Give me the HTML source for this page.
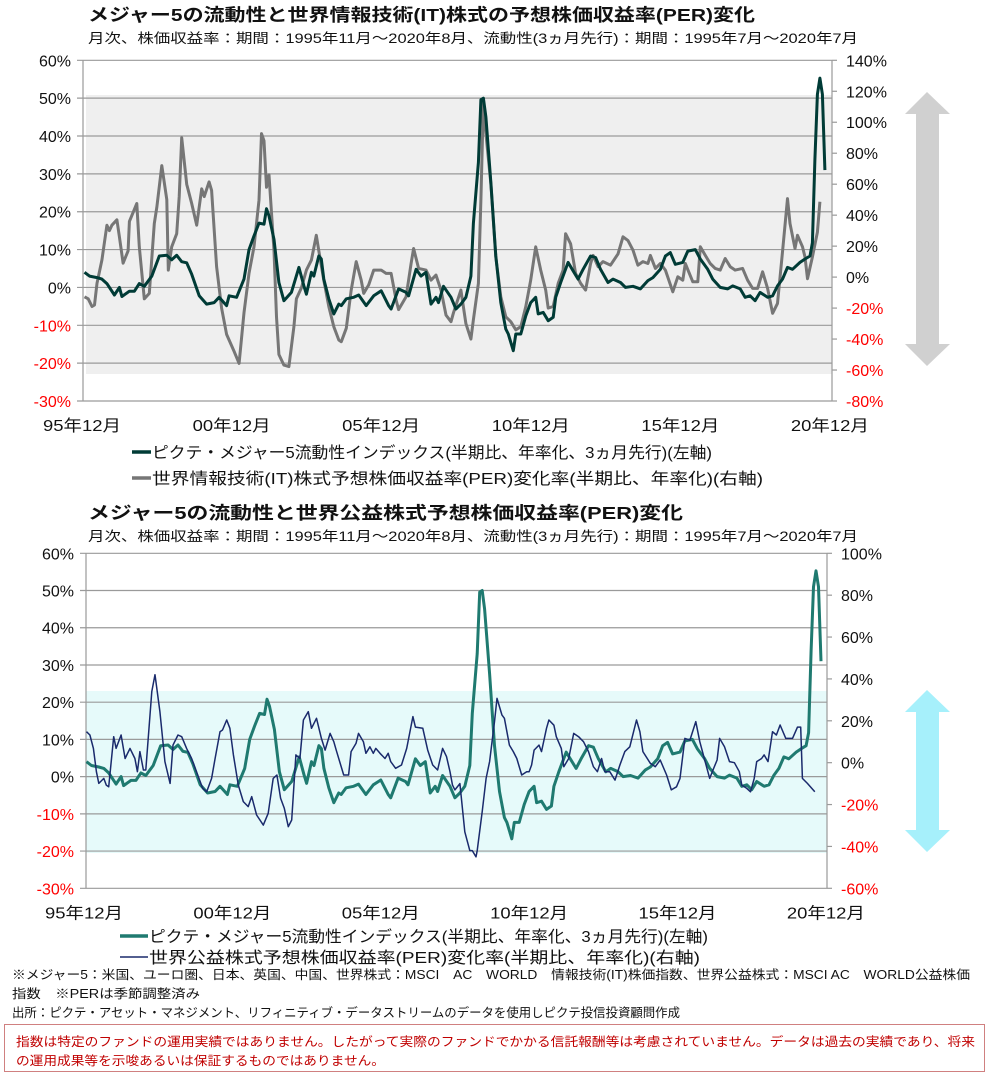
<!DOCTYPE html>
<html><head><meta charset="utf-8"><style>
body{margin:0;background:#fff;}
svg{display:block;font-family:"Liberation Sans","Noto Sans CJK JP",sans-serif;}
</style></head><body>
<svg id="s" width="993" height="1078" viewBox="0 0 993 1078" xmlns="http://www.w3.org/2000/svg">
<text x="88" y="21" font-size="17.5" font-weight="bold" fill="#111" textLength="667" lengthAdjust="spacingAndGlyphs">メジャー5の流動性と世界情報技術(IT)株式の予想株価収益率(PER)変化</text>
<text x="88" y="43" font-size="13.5" fill="#111" textLength="770" lengthAdjust="spacingAndGlyphs">月次、株価収益率：期間：1995年11月～2020年8月、流動性(3ヵ月先行)：期間：1995年7月～2020年7月</text>
<text x="88" y="519" font-size="17.5" font-weight="bold" fill="#111" textLength="595" lengthAdjust="spacingAndGlyphs">メジャー5の流動性と世界公益株式予想株価収益率(PER)変化</text>
<text x="88" y="541" font-size="13.5" fill="#111" textLength="770" lengthAdjust="spacingAndGlyphs">月次、株価収益率：期間：1995年11月～2020年8月、流動性(3ヵ月先行)：期間：1995年7月～2020年7月</text>
<rect x="86" y="95" width="746" height="279" fill="#efefef"/>
<rect x="86" y="691" width="741" height="162" fill="#e6fafa"/>
<polygon points="927,92 950,114 939,114 939,344 950,344 927,366 905,344 916,344 916,114 905,114" fill="#d0d0d0"/>
<polygon points="927,690 950,712 939,712 939,830 950,830 927,852 905,830 916,830 916,712 905,712" fill="#a6f0fb"/>
<g id="top"></g>
<g id="bot"></g>
<line x1="132" y1="452" x2="151" y2="452" stroke="#003b36" stroke-width="3.5"/>
<text x="152" y="458" font-size="16" fill="#111" textLength="560" lengthAdjust="spacingAndGlyphs">ピクテ・メジャー5流動性インデックス(半期比、年率化、3ヵ月先行)(左軸)</text>
<line x1="132" y1="478" x2="151" y2="478" stroke="#767676" stroke-width="3.5"/>
<text x="152" y="484" font-size="16" fill="#111" textLength="611" lengthAdjust="spacingAndGlyphs">世界情報技術(IT)株式予想株価収益率(PER)変化率(半期比、年率化)(右軸)</text>
<line x1="120" y1="936" x2="148" y2="936" stroke="#1f7a70" stroke-width="3.5"/>
<text x="149" y="942" font-size="16" fill="#111" textLength="559" lengthAdjust="spacingAndGlyphs">ピクテ・メジャー5流動性インデックス(半期比、年率化、3ヵ月先行)(左軸)</text>
<line x1="120" y1="957" x2="148" y2="957" stroke="#1a2a6c" stroke-width="1.5"/>
<text x="149" y="963" font-size="16" fill="#111" textLength="551" lengthAdjust="spacingAndGlyphs">世界公益株式予想株価収益率(PER)変化率(半期比、年率化)(右軸)</text>
<text x="12" y="979" font-size="12.5" fill="#111" textLength="958" lengthAdjust="spacingAndGlyphs">※メジャー5：米国、ユーロ圏、日本、英国、中国、世界株式：MSCI　AC　WORLD　情報技術(IT)株価指数、世界公益株式：MSCI AC　WORLD公益株価</text>
<text x="12" y="998" font-size="12.5" fill="#111" textLength="188" lengthAdjust="spacingAndGlyphs">指数　※PERは季節調整済み</text>
<text x="12" y="1017" font-size="12.5" fill="#111" textLength="668" lengthAdjust="spacingAndGlyphs">出所：ピクテ・アセット・マネジメント、リフィニティブ・データストリームのデータを使用しピクテ投信投資顧問作成</text>
<rect x="4.5" y="1024.5" width="980" height="47" fill="none" stroke="#d08080" stroke-width="1"/>
<text x="16" y="1046" font-size="12.5" fill="#c00000" textLength="959" lengthAdjust="spacingAndGlyphs">指数は特定のファンドの運用実績ではありません。したがって実際のファンドでかかる信託報酬等は考慮されていません。データは過去の実績であり、将来</text>
<text x="16" y="1065" font-size="12.5" fill="#c00000" textLength="369" lengthAdjust="spacingAndGlyphs">の運用成果等を示唆あるいは保証するものではありません。</text>
</svg>
<script>
// months since Dec 1995
const xTickLabels = ["95年12月","00年12月","05年12月","10年12月","15年12月","20年12月"];
const xTickMonths = [0,60,120,180,240,300];
const topLeftTicks = [60,50,40,30,20,10,0,-10,-20,-30];
const topRightTicks = [140,120,100,80,60,40,20,0,-20,-40,-60,-80];
const botLeftTicks = [60,50,40,30,20,10,0,-10,-20,-30];
const botRightTicks = [100,80,60,40,20,0,-20,-40,-60];
const liqMonths = [1,3,6,8,10,13,15,16,19,21,23,25,28,31,34,36,38,40,42,44,47,50,53,55,58,59,62,65,67,69,71,73,74,75,77,79,81,84,87,89,90,92,93,95,96,97,99,101,103,104,106,109,111,114,117,120,123,124,127,130,131,134,136,138,140,142,143,145,148,150,152,154,156,157,159,160,161,162,164,166,168,170,171,173,174,176,178,180,182,183,185,187,189,190,192,195,197,199,201,204,206,208,211,213,216,218,221,224,227,229,232,234,236,238,241,243,246,248,251,253,256,259,261,264,266,268,270,272,275,277,279,281,283,285,288,290,292,293,294,295,296,297,298];
const liqValues = [4,3,2.6,2.2,1,-2,0,-2.4,-1,-1,1,0.3,3,8.3,8.5,7.3,8.5,6.8,6.5,3.5,-2.2,-4.4,-4,-2.6,-4.8,-2.2,-2.6,2.2,10,13.6,17,16.7,20.8,18.9,12.7,1.3,-3.5,-1.3,5.3,0.4,-1.8,4,3,8.3,7.5,2.2,-3,-7,-4.4,-4.8,-3,-2.6,-2,-4.8,-2.2,-0.9,-4.8,-5.7,-0.4,-1.3,-2.2,4.8,3,4,-4.4,-2.6,-4,0.3,-2.6,-5.7,-4.4,-2.6,3,17,33,49.6,50,45,27.6,8.3,-4,-11,-12.3,-16.7,-12.3,-12.3,-7.5,-4,-2.6,-7,-6.6,-8.8,-7.9,-2.6,1.3,6.6,4.4,2.2,4.8,8.3,7.9,4.8,1.3,2.2,1.3,0,0.3,-0.4,1.8,2.6,4.8,8.3,9.2,6.1,6.6,9.6,10,7.5,4.8,2.2,0,-0.4,0.4,-0.4,-2.6,-2.2,-3.5,-1.3,-2.6,-2.2,0.4,2.2,5.3,4.8,6.6,7.5,8.3,11.8,33.8,51,55.3,51,31];
const itMonths = [1,2.5,4,5,6,8,10,11,12,14,15,16.5,18.5,19,22,23,25,27,29,30,32,34,34.6,36,38,39,40,42,44,46,48,49,51,52,54,56,58,61,63,65,67,69,71,72,73,74,75,77,78,79,81,83,85,86,88,90,92,94,95,97,99,101,103,104,106,108,110,112,113,115,117,120,122,124,126,127,130,132,133,135,138,140,142,144,146,148,149,152,154,156,157,159,160,161,162,164,166,168,170,172,174,176,178,180,182,184,186,187,189,191,193,194,196,198,200,202,204,205,207,209,212,215,217,219,221,223,225,227,228,230,232,234,237,239,241,242,245,247,248,250,252,254,256,258,260,262,265,267,269,271,273,275,277,279,281,283,284,286,287,289,290,291,293,295,296];
const itValues = [-12.7,-14,-19,-18,-4,11,33.5,30,33.5,37,26,9,17,36,47.5,19.6,-14,-10.5,34.6,45,72,50,4.5,19.6,28,52,90,60,47.5,33.5,57,52,61.5,56,6.7,-20,-37,-48,-55.7,-23,2.4,19.6,49.7,92.7,88,58,66,17,-25.6,-50,-56.8,-57.8,-32,-14,-7,4.5,11,27,17,-2,-19,-32,-40.6,-41.7,-33,-8.4,10,-2,-10.5,-5,4.5,4.5,2.4,2.4,-14.8,-21,-12.7,8.8,18.5,5.6,4.5,-2,1.3,-8.4,-24.5,-28.8,-23,-8.4,-30,-40,-27.5,-4,50,114,92.7,60,13,-12.7,-25.6,-28.8,-34,-32,-19,-2,19.6,4.5,-8.4,-20,-19,-4,4.5,28,21.5,2.4,-4,-8.4,8.8,14,6.7,10,7.7,15,26,23.6,17.4,7.7,10,8.8,14,5.6,8.8,4.5,-9.5,0.2,-2,8.8,-3,-3,19.6,14,8.8,5.6,4.5,12,6.7,4.5,5.6,-2,-7.3,-7.3,3.4,-7.3,-23.4,-17,16.3,50.7,34.6,18.5,27,19.6,13,-1,13,29,48.6];
const utilMonths = [1,2.4,3.8,5,6,8,9,10,12,13,15,16.6,18.6,20.6,21.6,22.6,24,25,27.4,28.7,30.7,32.7,34.8,36,38,39.5,41.5,43.5,45.5,48,49.6,51.6,53,55,56,57.7,59,60.4,62.4,64.4,66.4,67.8,69.8,72.5,74.5,76.5,78,79.5,81,82.6,84,85.7,87.3,88.7,90.7,92,94,96,97.5,99.5,101,102,105,107,108,110,111,113,114,115.6,117,118,119.7,121.7,123,124,126,128.4,130.5,133,134,137,139,141,143,145,146.6,148,149,150,152,154,156,157,158.5,159,161,162.6,164,166,167,169,170,172,173.6,175,177,179,180,181,182,184,185,187,188,190,191,193,194,196,198,200,202,204,206,207.6,209.3,210.6,212.6,214.7,216.7,218.7,220.7,223.4,224.8,226,229,231,233,235.6,237.5,239.6,241,243,245,247.4,249,251,253,254.5,256,257,259,261,263,265,266,268,269.5,271,272,274,275,276.6,278.4,280,281.5,283.8,286.5,288.5,289.8,290.5,292.5,295.5];
const utilValues = [14.8,13.2,6.8,-4.3,-9.9,-7.5,-10.7,-11.5,12.4,6.8,13.2,2,6.8,2,-4.3,5.3,-3.5,-3.5,34,42,24.4,0.5,-9.9,8.4,13.2,12.4,6.8,2,-4.3,-12.3,-13.9,-7.5,2,14.8,15.6,20.4,16.4,3.7,-10.7,-18.6,-21,-16.2,-25,-29.8,-24.2,-7.5,-5.9,-17,-21.8,-30.6,-27.4,3.7,2,20.4,24.4,16.4,21.2,11.6,6,14,10,6,-5.9,-5.9,5.3,9.2,14,10,4.5,7.6,4.5,6.8,4.5,2,4.5,0.5,-2.7,-1.1,6.8,22,17,16.4,6,-1.1,-3.5,6.8,2.9,-4.3,-10.7,-13,-10,-33,-42,-42,-45,-42,-23.4,-7.5,0.5,19.6,30.7,22.8,21.2,8.4,5.3,2,-5.9,-4.3,-4.3,-1.1,6,8.4,5.3,16.4,20.4,17.9,12.4,6.8,-1.9,2,14,12.4,10,5.3,-1.9,-4.3,2,-4.3,-4.3,-8.3,-1.1,5.3,7.6,20.4,14.8,5.3,-0.3,-1.9,1.3,-5.9,-13,-11.5,-7.5,11.6,10.8,19.6,10,1.3,-7.5,-3,1.3,11.6,7.6,0.5,0,-4.3,-10.7,-12.3,-13.9,-7.5,0.5,2,3.7,0.5,14.8,13.2,18,11.6,11.6,17,17,-7.5,-9.9,-13.9];

const NS = "http://www.w3.org/2000/svg";
function mk(parent, tag, attrs){
  const e = document.createElementNS(NS, tag);
  for (const k in attrs) e.setAttribute(k, attrs[k]);
  parent.appendChild(e); return e;
}
function drawChart(g, cfg){
  const xs = m => cfg.x0 + m * cfg.mw;
  const yl = v => cfg.yTop + (cfg.lMax - v) / (cfg.lMax - cfg.lMin) * (cfg.yBot - cfg.yTop);
  const yr = v => cfg.yTop + (cfg.rMax - v) / (cfg.rMax - cfg.rMin) * (cfg.yBot - cfg.yTop);
  cfg.lTicks.forEach(t => {
    const y = yl(t);
    const gl = mk(g, "line", {x1: cfg.axL - 6, x2: cfg.axR, y1: y, y2: y, stroke: "#9a9a9a", "stroke-width": 1.2});
    
    
    const tx = mk(g, "text", {x: cfg.axL - 12, y: y + 6, "text-anchor": "end", "font-size": 16, fill: t < 0 ? "#ff0000" : "#111"});
    tx.textContent = t + "%";
    
    
  });
  cfg.rTicks.forEach(t => {
    const y = yr(t);
    const tk = mk(g, "line", {x1: cfg.axR, x2: cfg.axR + 5, y1: y, y2: y, stroke: "#9a9a9a", "stroke-width": 1.2});
    
    
    const tx = mk(g, "text", {x: cfg.axR + 14, y: y + 6, "font-size": 16, fill: t < 0 ? "#ff0000" : "#111"});
    tx.textContent = t + "%";
    
    
  });
  const la = mk(g, "line", {x1: cfg.axL, x2: cfg.axL, y1: cfg.yTop, y2: cfg.yBot, stroke: "#9a9a9a", "stroke-width": 1.2});
  
  
  const ra = mk(g, "line", {x1: cfg.axR, x2: cfg.axR, y1: cfg.yTop, y2: cfg.yBot, stroke: "#9a9a9a", "stroke-width": 1.2});
  
  
  xTickLabels.forEach((lb, i) => {
    const tx = mk(g, "text", {x: xs(xTickMonths[i]) - 39, y: cfg.yBot + 30, "font-size": 16, fill: "#111", textLength: 78, lengthAdjust: "spacingAndGlyphs"});
    tx.textContent = lb;
    
    
  });
  cfg.series.forEach(s => {
    const scale = s.axis === "L" ? yl : yr;
    const d = s.months.map((m, i) => (i ? "L" : "M") + xs(m).toFixed(1) + " " + scale(s.values[i]).toFixed(1)).join(" ");
    const p = mk(g, "path", {d: d, fill: "none", stroke: s.color, "stroke-width": s.w, "stroke-linejoin": "round"});
    
    
  });
}
drawChart(document.getElementById("top"), {
  x0: 82, mw: 2.493, axL: 83, axR: 832, yTop: 60.3, yBot: 401,
  lMax: 60, lMin: -30, rMax: 140, rMin: -80, lTicks: topLeftTicks, rTicks: topRightTicks,
  series: [
    {name: "it-per-change-line", months: itMonths, values: itValues, axis: "R", color: "#767676", w: 3},
    {name: "liquidity-line-top", months: liqMonths, values: liqValues, axis: "L", color: "#003b36", w: 3}
  ]
});
drawChart(document.getElementById("bot"), {
  x0: 84, mw: 2.473, axL: 86, axR: 827, yTop: 553.3, yBot: 888.3,
  lMax: 60, lMin: -30, rMax: 100, rMin: -60, lTicks: botLeftTicks, rTicks: botRightTicks,
  series: [
    {name: "liquidity-line-bottom", months: liqMonths, values: liqValues, axis: "L", color: "#1f7a70", w: 3},
    {name: "utilities-per-change-line", months: utilMonths, values: utilValues, axis: "R", color: "#1a2a6c", w: 1.5}
  ]
});
</script>
</body></html>
